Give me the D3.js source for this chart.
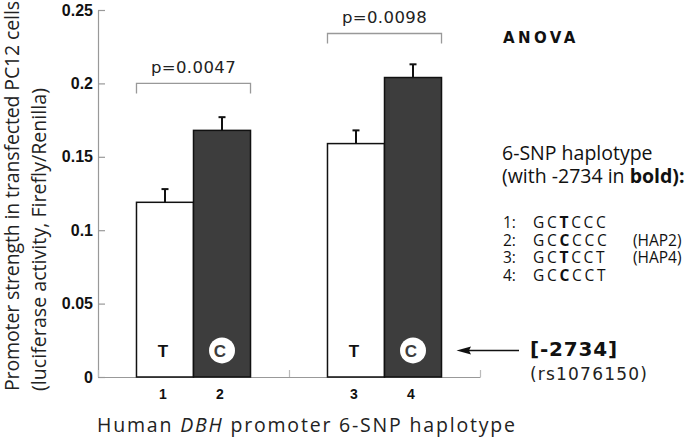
<!DOCTYPE html>
<html>
<head>
<meta charset="utf-8">
<script src="https://cdn.jsdelivr.net/npm/d3@7"></script>
<style>
  body { margin: 0; background: #fff; }
  svg { display: block; }
</style>
</head>
<body>
<div class="chart"></div>
<script>
// data
const haplotypes = ['1', '2', '3', '4'];
const groups = ['g1', 'g2'];
const groupOf = ['g1', 'g1', 'g2', 'g2'];
const means = [0.119, 0.168, 0.159, 0.204];
const errors = [0.009, 0.009, 0.009, 0.009];
const alleles = ['T', 'C', 'T', 'C'];
const yTicks = [0, 0.05, 0.1, 0.15, 0.2, 0.25];
const yTickLabels = ['0', '0.05', '0.1', '0.15', '0.2', '0.25'];
const pLabels = ['p=0.0047', 'p=0.0098'];
const pLevels = [0.2, 0.234];
const seqs = ['GCTCCC', 'GCCCCC', 'GCTCCT', 'GCCCCT'];
const hapNames = ['', '(HAP2)', '(HAP4)', ''];

const width = 685;
const height = 437;
const margin = { top: 10, right: 205, bottom: 60, left: 98 };

const svg = d3.select('.chart')
  .append('svg')
  .attr('width', width)
  .attr('height', height);

// scales
const y = d3.scaleLinear()
  .domain([0, 0.25])
  .range([height - margin.bottom, margin.top]);

const xGroup = d3.scaleBand()
  .domain(groups)
  .range([margin.left, width - margin.right]);

const xInner = d3.scaleBand()
  .domain([0, 1])
  .range([0, xGroup.bandwidth()])
  .paddingOuter(0.675);

const barX = i => xGroup(groupOf[i]) + xInner(i % 2);
const barMid = i => barX(i) + xInner.bandwidth() / 2;

// y axis
const yAxis = d3.axisLeft(y)
  .tickValues(yTicks)
  .tickFormat((d, i) => yTickLabels[i])
  .tickSizeInner(-7)
  .tickSizeOuter(0)
  .tickPadding(5);

const yAxisDraw = svg.append('g')
  .attr('transform', `translate(${margin.left},0)`)
  .call(yAxis);
yAxisDraw.select('.domain').attr('stroke', '#999').attr('stroke-width', 1.2);
yAxisDraw.selectAll('.tick line').attr('stroke', '#999').attr('stroke-width', 1.2);
yAxisDraw.selectAll('.tick text')
  .style('font-family', '"Liberation Sans", Arial, sans-serif')
  .style('font-weight', 'bold')
  .style('font-size', '16px')
  .attr('fill', '#111');

// x axis (group dividers)
const xOuter = d3.scaleLinear()
  .domain([0, groups.length])
  .range([margin.left, width - margin.right]);
const xAxisDraw = svg.append('g')
  .attr('transform', `translate(0,${y(0)})`)
  .call(d3.axisBottom(xOuter).ticks(2).tickSizeInner(-7).tickSizeOuter(0).tickFormat(''));
xAxisDraw.select('.domain').attr('stroke', '#999').attr('stroke-width', 1.2);
xAxisDraw.selectAll('.tick line').attr('stroke', '#bbb').attr('stroke-width', 1.2);

// bars
const bars = svg.append('g').attr('class', 'bars');
bars.selectAll('rect')
  .data(means)
  .enter()
  .append('rect')
  .attr('x', (d, i) => barX(i))
  .attr('y', d => y(d))
  .attr('width', xInner.bandwidth())
  .attr('height', d => y(0) - y(d))
  .attr('fill', (d, i) => i % 2 ? '#3d3d3d' : '#fff')
  .attr('stroke', '#111')
  .attr('stroke-width', 1.5);

// error bars (upper only)
const err = svg.append('g').attr('class', 'errors')
  .attr('stroke', '#111')
  .attr('stroke-width', 2);
err.selectAll('.stem')
  .data(means)
  .enter()
  .append('line')
  .attr('x1', (d, i) => barMid(i))
  .attr('x2', (d, i) => barMid(i))
  .attr('y1', d => y(d))
  .attr('y2', (d, i) => y(d + errors[i]));
err.selectAll('.cap')
  .data(means)
  .enter()
  .append('line')
  .attr('x1', (d, i) => barMid(i) - 3.5)
  .attr('x2', (d, i) => barMid(i) + 3.5)
  .attr('y1', (d, i) => y(d + errors[i]))
  .attr('y2', (d, i) => y(d + errors[i]));

// allele letters in bars
const alleleG = svg.append('g')
  .style('font-family', '"Liberation Sans", Arial, sans-serif')
  .style('font-weight', 'bold')
  .style('font-size', '17px');
alleleG.selectAll('circle')
  .data(alleles.map((a, i) => ({ a, i })).filter(d => d.a === 'C'))
  .enter()
  .append('circle')
  .attr('cx', d => barMid(d.i))
  .attr('cy', y(0.0181))
  .attr('r', 13)
  .attr('fill', '#fff');
alleleG.selectAll('text')
  .data(alleles)
  .enter()
  .append('text')
  .attr('x', (d, i) => barMid(i) - 2)
  .attr('y', y(0.0139))
  .attr('text-anchor', 'middle')
  .attr('fill', d => d === 'C' ? '#3d3d3d' : '#111')
  .text(d => d);

// x labels
svg.append('g').selectAll('text')
  .data(haplotypes)
  .enter()
  .append('text')
  .attr('x', (d, i) => barMid(i) - 2)
  .attr('y', 399)
  .attr('text-anchor', 'middle')
  .style('font-family', '"Liberation Sans", Arial, sans-serif')
  .style('font-weight', 'bold')
  .style('font-size', '14px')
  .attr('fill', '#111')
  .text(d => d);

// significance brackets
const brackets = svg.append('g');
groups.forEach((g, k) => {
  const x0 = barX(2 * k);
  const x1 = barX(2 * k + 1) + xInner.bandwidth();
  const top = y(pLevels[k]);
  brackets.append('path')
    .attr('d', `M${x0},${top + 10}V${top}H${x1}V${top + 10}`)
    .attr('fill', 'none')
    .attr('stroke', '#999')
    .attr('stroke-width', 1.3);
  brackets.append('text')
    .attr('x', (x0 + x1) / 2)
    .attr('y', top - 10.5)
    .attr('text-anchor', 'middle')
    .style('font-family', '"DejaVu Sans", sans-serif')
    .style('font-size', '16.5px')
    .style('letter-spacing', '0.4px')
    .attr('fill', '#222')
    .text(pLabels[k]);
});

// y title
const yTitle = svg.append('g')
  .style('font-family', '"Open Sans", sans-serif')
  .style('font-size', '19.5px')
  .attr('fill', '#222');
yTitle.append('text')
  .attr('transform', 'translate(19,391) rotate(-90)')
  .attr('textLength', 390)
  .attr('lengthAdjust', 'spacing')
  .text('Promoter strength in transfected PC12 cells');
yTitle.append('text')
  .attr('transform', 'translate(46,391) rotate(-90)')
  .attr('textLength', 303)
  .attr('lengthAdjust', 'spacing')
  .text('(luciferase activity, Firefly/Renilla)');

// x title
const xTitle = svg.append('text')
  .attr('x', 97)
  .attr('y', 431.5)
  .attr('textLength', 418)
  .attr('lengthAdjust', 'spacing')
  .style('font-family', '"Open Sans", sans-serif')
  .style('font-size', '19.5px')
  .attr('fill', '#222');
xTitle.append('tspan').text('Human ');
xTitle.append('tspan').style('font-style', 'italic').text('DBH');
xTitle.append('tspan').text(' promoter 6-SNP haplotype');

// right panel
svg.append('text')
  .attr('x', 503)
  .attr('y', 43.3)
  .style('font-family', '"DejaVu Sans", sans-serif')
  .style('font-weight', 'bold')
  .style('font-size', '15px')
  .style('letter-spacing', '3.4px')
  .attr('fill', '#111')
  .text('ANOVA');

const legend = svg.append('g')
  .style('font-family', '"Open Sans", sans-serif')
  .attr('fill', '#111');
legend.append('text')
  .attr('x', 502)
  .attr('y', 160)
  .style('font-size', '19.5px')
  .text('6-SNP haplotype');
const l2 = legend.append('text')
  .attr('x', 502)
  .attr('y', 183.3)
  .style('font-size', '19.5px');
l2.append('tspan').text('(with -2734 in ');
l2.append('tspan').style('font-weight', 'bold').text('bold):');

// one text per haplotype row
seqs.forEach((s, i) => {
  const row = legend.append('text')
    .attr('y', 228.3 + i * 17.5)
    .style('font-size', '15.5px');
  row.append('tspan')
    .attr('x', 503)
    .text(`${haplotypes[i]}:`);
  row.append('tspan')
    .attr('x', 533)
    .style('letter-spacing', '2.7px')
    .text(s.slice(0, 2));
  row.append('tspan')
    .style('letter-spacing', '2.7px')
    .style('font-weight', 'bold')
    .text(s[2]);
  row.append('tspan')
    .style('letter-spacing', '2.7px')
    .text(s.slice(3));
  if (hapNames[i]) {
    row.append('tspan')
      .attr('x', 633)
      .text(hapNames[i]);
  }
});

// arrow and SNP label
const arrowY = y(0.0181);
svg.append('line')
  .attr('x1', 519)
  .attr('x2', 468)
  .attr('y1', arrowY)
  .attr('y2', arrowY)
  .attr('stroke', '#111')
  .attr('stroke-width', 1.6);
svg.append('path')
  .attr('d', `M456.5,${arrowY}L471,${arrowY - 4}L469,${arrowY}L471,${arrowY + 4}Z`)
  .attr('fill', '#111');

svg.append('text')
  .attr('x', 530)
  .attr('y', 356)
  .style('font-family', '"DejaVu Sans", sans-serif')
  .style('font-weight', 'bold')
  .style('font-size', '20px')
  .style('letter-spacing', '0.8px')
  .attr('fill', '#111')
  .text('[-2734]');
svg.append('text')
  .attr('x', 530)
  .attr('y', 380)
  .style('font-family', '"DejaVu Sans", sans-serif')
  .style('font-size', '17px')
  .style('letter-spacing', '1.2px')
  .attr('fill', '#222')
  .text('(rs1076150)');
</script>
</body>
</html>
